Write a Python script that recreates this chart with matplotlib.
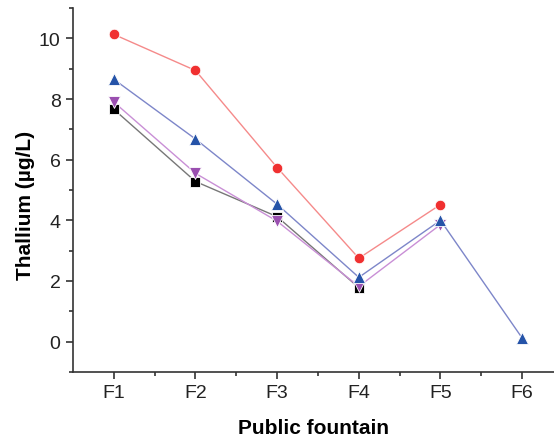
import matplotlib
matplotlib.use("Agg")
import matplotlib.pyplot as plt

plt.rcParams['font.family'] = ['Liberation Sans', 'DejaVu Sans']

categories = ["F1", "F2", "F3", "F4", "F5", "F6"]
red_vals = [10.13, 8.94, 5.74, 2.75, 4.52]
blue_vals = [8.65, 6.68, 4.53, 2.12, 4.0, 0.12]
purple_vals = [7.9, 5.55, 3.97, 1.82, 3.86]
black_vals = [7.66, 5.28, 4.12, 1.78]

fig = plt.figure(figsize=(5.54, 4.39), dpi=100)
ax = fig.add_axes([73/554, 1-373/439, 1-73/554, (373-9)/439])

def plot_series(vals, marker, mcolor, lcolor, ms):
    x = list(range(1, len(vals)+1))
    ax.plot(x, vals, color=lcolor, lw=1.0, zorder=2)
    ax.plot(x, vals, ls='none', marker=marker, ms=ms, mfc=mcolor, mec='white', mew=0.6, zorder=3)

plot_series(black_vals, 's', 'black', '#777777', 6.8)
plot_series(purple_vals, 'v', '#9a4fb0', '#c98fd6', 8.5)
plot_series(blue_vals, '^', '#2553a8', '#7d86c9', 8.5)
plot_series(red_vals, 'o', '#f03030', '#f58a8a', 7.6)

ax.set_xlim(0.5, 6.39)
ax.set_ylim(-1, 11)
ax.set_xticks(range(1, 7))
ax.set_xticklabels(categories)
ax.set_xticks([1.5, 2.5, 3.5, 4.5, 5.5], minor=True)
ax.set_yticks([0, 2, 4, 6, 8, 10])
ax.set_yticks([-1, 1, 3, 5, 7, 9, 11], minor=True)

for s in ['top', 'right']:
    ax.spines[s].set_visible(False)
for s in ['left', 'bottom']:
    ax.spines[s].set_linewidth(1.2)
    ax.spines[s].set_color('#333333')
ax.tick_params(which='major', length=5, width=1.2, labelsize=14, pad=4, color='#333333', labelcolor='#222222')
ax.tick_params(which='minor', length=3, width=1.2, color='#333333')

ax.set_xlabel("Public fountain", fontsize=15, fontweight='bold', labelpad=12)
ax.set_ylabel("Thallium (µg/L)", fontsize=15, fontweight='bold', labelpad=3)
ax.yaxis.label.set_y(0.46)

fig.savefig("out.png", dpi=100)
